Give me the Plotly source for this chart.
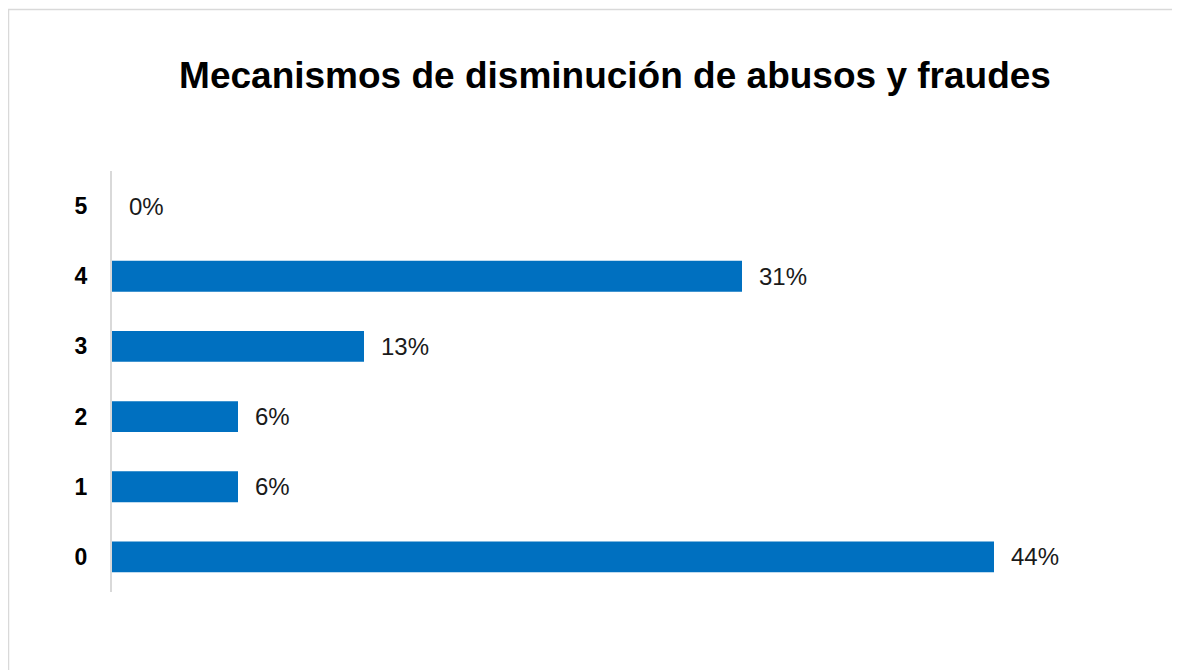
import plotly.graph_objects as go

categories = [0, 1, 2, 3, 4, 5]
shares = [7 / 16, 1 / 16, 1 / 16, 2 / 16, 5 / 16, 0.0]
labels = ["44%", "6%", "6%", "13%", "31%", "0%"]
title_text = "Mecanismos de disminución de abusos y fraudes"

# The page body adds an 8px offset; work in figure pixels = page pixels - 8
OFF = 8
W, H = 1180, 670
L, R, T, B = 112 - OFF, 68, 171 - OFF, H - (592 - OFF)
pw, ph = W - L - R, H - T - B

def px_x(p):
    return (p - OFF - L) / pw

def px_y(p):
    return (H - B - (p - OFF)) / ph

fig = go.Figure()
fig.add_trace(go.Bar(
    x=shares, y=categories, orientation="h", width=0.44,
    marker=dict(color="#0070C0", line=dict(width=0)),
    hoverinfo="skip",
))

for c, v, lab in zip(categories, shares, labels):
    fig.add_annotation(
        x=v, y=c, xref="x", yref="y", text=lab, showarrow=False,
        xanchor="left", yanchor="middle", xshift=15,
        font=dict(family="Liberation Sans, Arial, sans-serif", size=24, color="#1a1a1a"),
    )

fig.add_shape(
    type="rect", xref="paper", yref="paper",
    x0=px_x(8.5), x1=px_x(1200), y0=px_y(700), y1=px_y(9.5),
    line=dict(color="#d9d9d9", width=1.5), fillcolor="rgba(0,0,0,0)", layer="below",
)

fig.update_layout(
    width=W, height=H,
    margin=dict(l=L, r=R, t=T, b=B),
    paper_bgcolor="white", plot_bgcolor="white",
    showlegend=False,
    title=dict(
        text="<b>" + title_text + "</b>",
        x=(615 - OFF) / W, xanchor="center",
        y=1 - (75 - OFF) / H, yanchor="middle",
        font=dict(family="Liberation Sans, Arial, sans-serif", size=37, color="black"),
    ),
    xaxis=dict(range=[0, 0.5], visible=False, fixedrange=True),
    yaxis=dict(
        range=[-0.5, 5.5], tickvals=categories, ticktext=[f"<b>{c}</b>" for c in categories],
        showline=True, linecolor="#d9d9d9", linewidth=2,
        showgrid=False, zeroline=False, ticks="", ticklabelstandoff=18,
        tickfont=dict(family="Liberation Sans, Arial, sans-serif", size=23, color="black"),
        fixedrange=True,
    ),
)

fig.write_html("out.html")
